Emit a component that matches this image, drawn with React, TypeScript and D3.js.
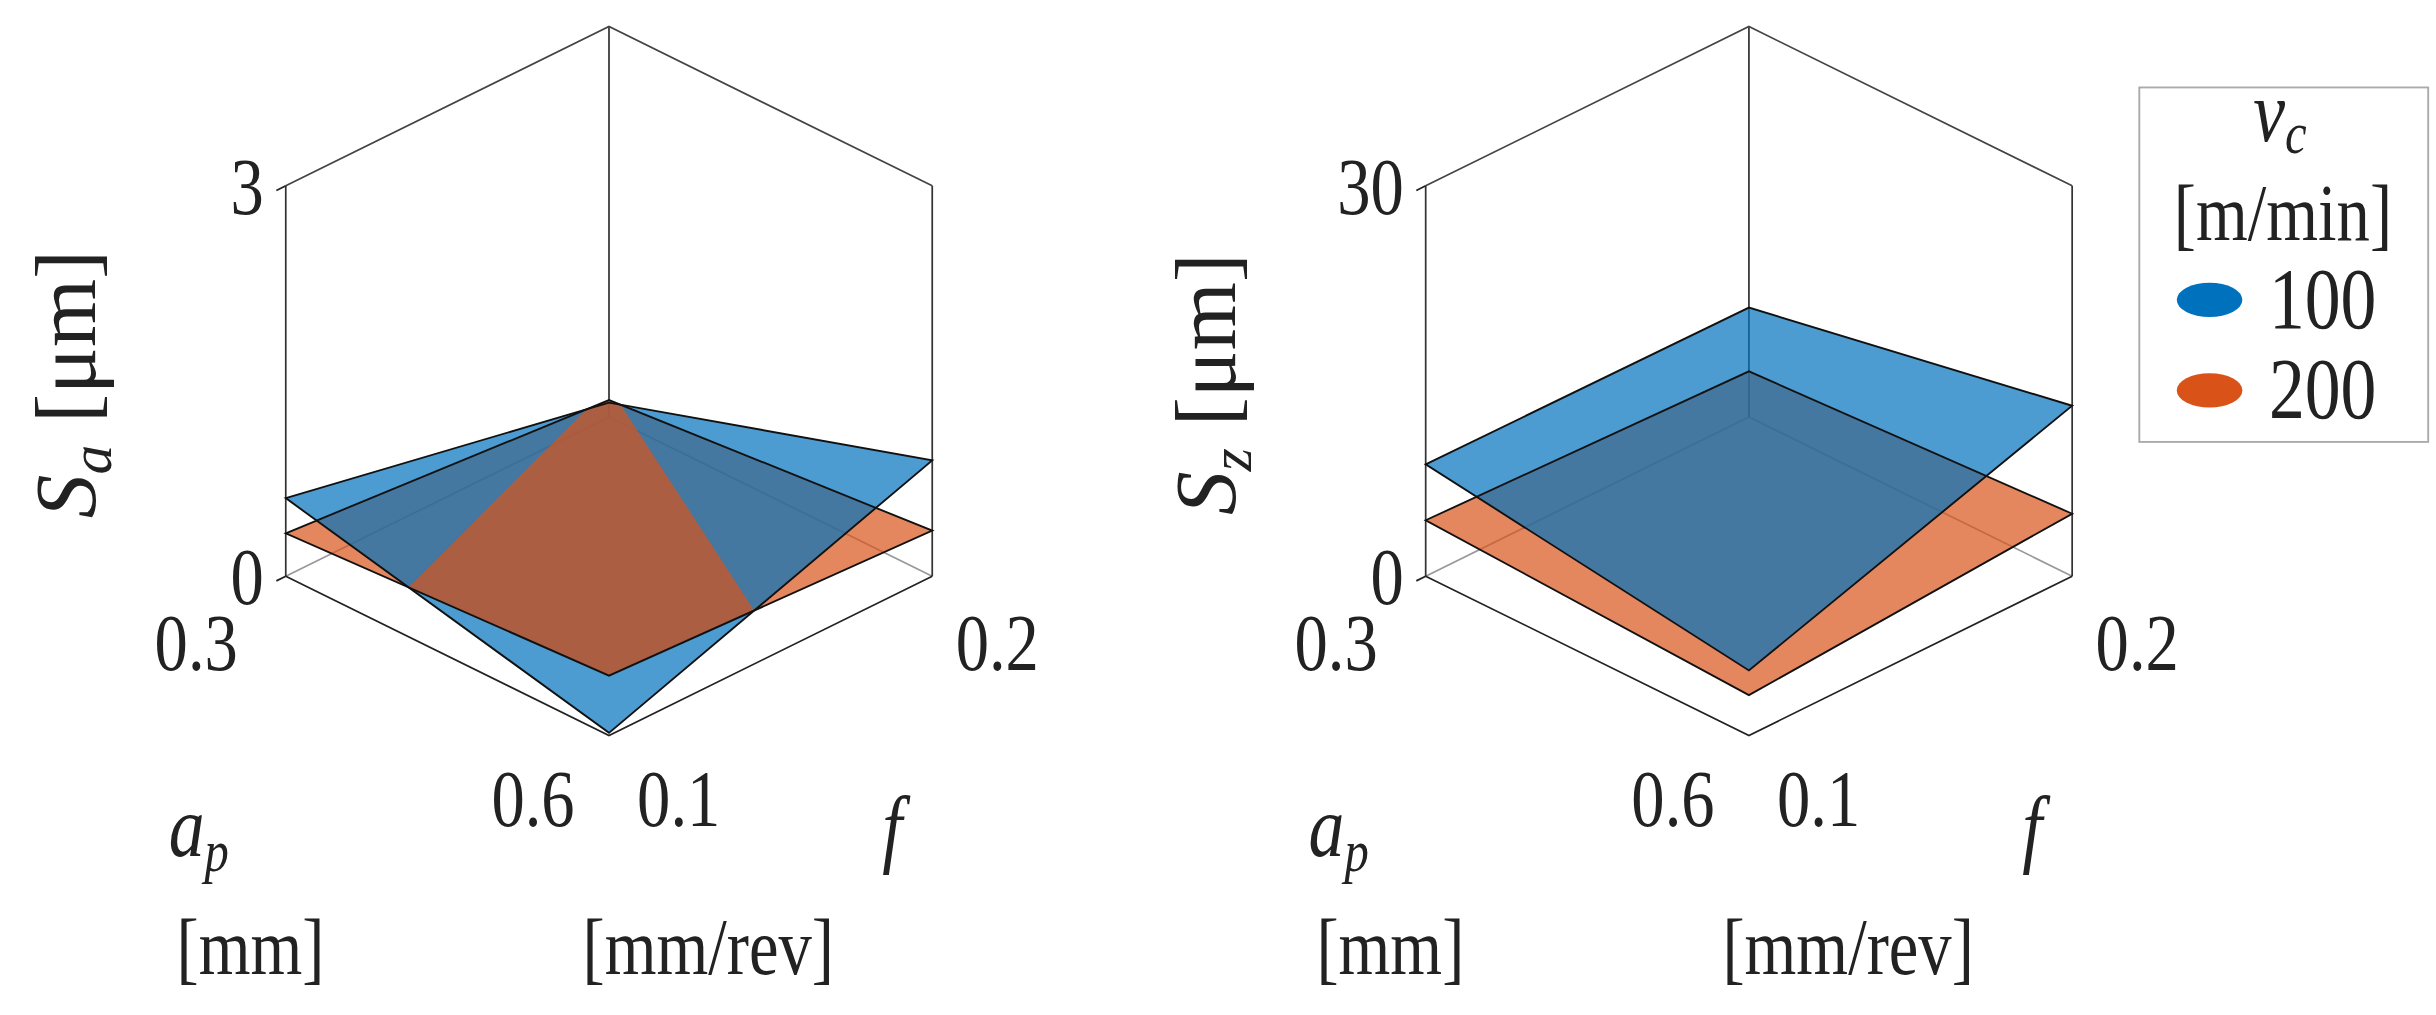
import React from 'react';
import * as d3 from 'd3';

// corner order: [ap .3/f .1 (left), ap .3/f .2 (back), ap .6/f .2 (right), ap .6/f .1 (front)]
const apRange = [0.3, 0.6];
const fRange = [0.1, 0.2];
const vcLevels = [100, 200];
const saCorners100 = [0.6, 0.11, 0.89, 0.02];
const saCorners200 = [0.33, 0.13, 0.35, 0.46];
const szCorners100 = [8.6, 8.4, 13.1, 5.0];
const szCorners200 = [4.3, 3.5, 4.8, 3.1];
const saTicks = [0, 3];
const szTicks = [0, 30];

const colors = ['#0072BD', '#D95319'];
const K = 2436 / 1560;
const DX = 207, DY = 102;
const font = 'Liberation Serif, Times New Roman, serif';

// the two triangles of each surface, split on the back-front diagonal
const halves: [number, number][][] = [
  [[0, 0], [0, 1], [1, 0]],
  [[1, 1], [0, 1], [1, 0]],
];

function interp(c: number[], u: number, v: number) {
  const [zL, zB, zR, zF] = c;
  if (u + v <= 1) return zL + u * (zF - zL) + v * (zB - zL);
  return zR + (1 - u) * (zB - zR) + (1 - v) * (zF - zR);
}

// keep the part of a (u,v) polygon where f > 0
function clip(poly: [number, number][], f: (p: [number, number]) => number) {
  const out: [number, number][] = [];
  for (let i = 0; i < poly.length; i++) {
    const a = poly[i], b = poly[(i + 1) % poly.length];
    const fa = f(a), fb = f(b);
    if (fa > 0) out.push(a);
    if ((fa > 0) !== (fb > 0)) {
      const t = fa / (fa - fb);
      out.push([a[0] + t * (b[0] - a[0]), a[1] + t * (b[1] - a[1])]);
    }
  }
  return out;
}

const T: React.FC<{ x: number; y: number; s?: number; anchor?: string; children: React.ReactNode; italic?: boolean }> = ({ x, y, s = 52, anchor = 'start', children, italic }) => (
  <text transform={`translate(${x},${y}) scale(0.82,1)`} fontSize={s} textAnchor={anchor} fontStyle={italic ? 'italic' : 'normal'}>{children}</text>
);

const Panel: React.FC<{ x0: number; zMax: number; ticks: number[]; surfaces: number[][]; sub: string }> = ({ x0, zMax, ticks, surfaces, sub }) => {
  const y0 = 369;
  const zs = d3.scaleLinear().domain([0, zMax]).range([0, 250]);
  const P = (u: number, v: number, z: number): [number, number] => [x0 + DX * u + DX * v, y0 + DY * u - DY * v - zs(z)];
  const line = d3.line();
  const poly = (c: number[], pts: [number, number][]) => line(pts.map(([u, v]) => P(u, v, interp(c, u, v))))! + 'Z';
  const [blue, orange] = surfaces;
  const overlay = halves.map(h => clip(h, ([u, v]) => interp(orange, u, v) - interp(blue, u, v))).filter(p => p.length > 2);
  const L = P(0, 0, 0), B = P(0, 1, 0), R = P(1, 1, 0), F = P(1, 0, 0);
  const LT = P(0, 0, zMax), BT = P(0, 1, zMax), RT = P(1, 1, zMax);
  return (
    <g fontFamily={font} fill="#222">
      <g fill="none" strokeWidth={1.1}>
        <path d={line([L, B, R])!} stroke="#999" />
        <path d={line([B, BT])!} stroke="#333" />
        <path d={line([LT, BT, RT])!} stroke="#444" />
        <path d={line([L, LT])!} stroke="#333" />
        <path d={line([R, RT])!} stroke="#333" />
        <path d={line([L, F, R])!} stroke="#222" />
        {ticks.map(t => <path key={t} d={line([P(0, 0, t), [P(0, 0, t)[0] - 6, P(0, 0, t)[1] + 3]])!} stroke="#222" />)}
      </g>
      <path d={halves.map(h => poly(orange, h)).join('')} fill={colors[1]} fillOpacity={0.7} />
      <path d={halves.map(h => poly(blue, h)).join('')} fill={colors[0]} fillOpacity={0.7} />
      {overlay.map((p, i) => <path key={i} d={poly(orange, p)} fill={colors[1]} fillOpacity={0.7} />)}
      {surfaces.map((c, s) => (
        <path key={s} d={poly(c, [[0, 0], [0, 1], [1, 1], [1, 0]])} fill="none" stroke="#111" strokeWidth={1.2} />
      ))}
      {ticks.map(t => <T key={t} x={L[0] - 14} y={P(0, 0, t)[1] + 18} anchor="end">{t}</T>)}
      <T x={L[0] - 84} y={429}>{apRange[0]}</T>
      <T x={F[0] - 22} y={529} anchor="end">{apRange[1]}</T>
      <T x={F[0] + 18} y={529}>{fRange[0]}</T>
      <T x={R[0] + 15} y={429}>{fRange[1]}</T>
      <T x={L[0] - 75} y={548} s={56} italic>a<tspan fontSize={38} dy={10}>p</tspan></T>
      <T x={L[0] + 382} y={548} s={56} italic>f</T>
      <T x={L[0] - 70} y={624}>[mm]</T>
      <T x={L[0] + 190} y={624}>[mm/rev]</T>
      <text transform={`translate(${L[0] - 122},246) rotate(-90)`} textAnchor="middle" fontSize={56}>
        <tspan fontStyle="italic">S</tspan><tspan fontStyle="italic" fontSize={38} dy={10}>{sub}</tspan><tspan dy={-10}> [μm]</tspan>
      </text>
    </g>
  );
};

export default function App() {
  return (
    <svg width={2436} height={1015} style={{ position: 'absolute', left: 0, top: 0, background: '#fff' }}>
      <g transform={`scale(${K})`}>
        <Panel x0={183} zMax={3} ticks={saTicks} surfaces={[saCorners100, saCorners200]} sub="a" />
        <Panel x0={913} zMax={30} ticks={szTicks} surfaces={[szCorners100, szCorners200]} sub="z" />
        <g fontFamily={font} fill="#222">
          <rect x={1370} y={56} width={185} height={227} fill="#fff" stroke="#aaa" strokeWidth={1.2} />
          <T x={1460} y={90} s={56} anchor="middle" italic>v<tspan fontSize={38} dy={8}>c</tspan></T>
          <T x={1462} y={154} anchor="middle">[m/min]</T>
          {vcLevels.map((v, i) => (
            <g key={v}>
              <ellipse cx={1415} cy={192 + i * 58} rx={21} ry={11} fill={colors[i]} />
              <T x={1453} y={210 + i * 58} s={56}>{v}</T>
            </g>
          ))}
        </g>
      </g>
    </svg>
  );
}
